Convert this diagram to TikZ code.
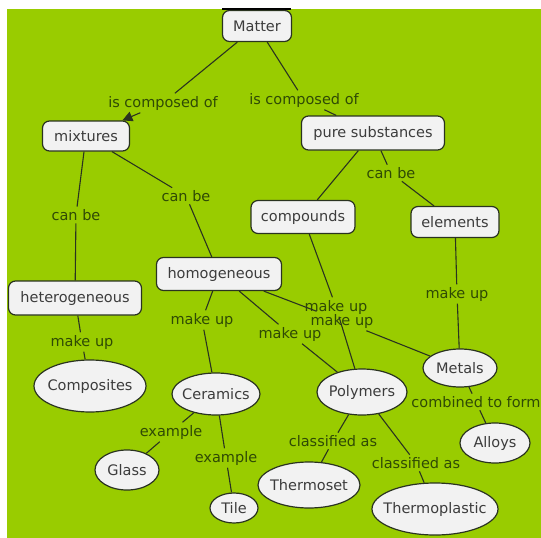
\documentclass[tikz,border=0pt]{standalone}
\usepackage{fontspec}
\setmainfont{DejaVu Sans}
\usetikzlibrary{shapes.geometric,arrows.meta}
\definecolor{bg}{HTML}{99CC00}
\definecolor{nodefill}{HTML}{F2F2F2}
\definecolor{edgecol}{HTML}{2A3320}
\definecolor{lblcol}{HTML}{2F4A05}
\definecolor{ntext}{HTML}{3C3C3C}
\begin{document}
\begin{tikzpicture}[x=1pt,y=-1pt,
  concept/.style={draw=edgecol, line width=1.2pt, fill=nodefill, inner sep=0pt,
    text=ntext, font=\fontsize{14.5}{17}\selectfont},
  box/.style={concept, rectangle, rounded corners=7pt},
  oval/.style={concept, ellipse},
  linklbl/.style={text=lblcol, font=\fontsize{14.5}{17}\selectfont, inner sep=2.5pt},
  conn/.style={draw=edgecol, line width=1.1pt}]
\useasboundingbox (0,0) rectangle (541,538);
\fill[white] (0,0) rectangle (541,538);
\fill[bg] (7,9) rectangle (541,538);
\fill[black] (222,7.5) rectangle (291,9.5);

% concepts
\node[box, minimum width=69pt, minimum height=31pt] (matter) at (257,26) {\makebox[0pt]{Matter}};
\node[box, minimum width=87pt, minimum height=30pt] (mixtures) at (86,136) {\makebox[0pt]{mixtures}};
\node[box, minimum width=143pt, minimum height=34pt] (pure) at (373,133) {\makebox[0pt]{pure substances}};
\node[box, minimum width=104pt, minimum height=33pt] (compounds) at (303,217) {\makebox[0pt]{compounds}};
\node[box, minimum width=88pt, minimum height=31pt] (elements) at (455,222) {\makebox[0pt]{elements}};
\node[box, minimum width=125pt, minimum height=33pt] (homog) at (219,274) {\makebox[0pt]{homogeneous}};
\node[box, minimum width=133pt, minimum height=34pt] (hetero) at (75,298) {\makebox[0pt]{heterogeneous}};

\node[oval, minimum width=112pt, minimum height=52pt] (composites) at (90,386) {\makebox[0pt]{Composites}};
\node[oval, minimum width=88pt, minimum height=42pt] (ceramics) at (216,394) {\makebox[0pt]{Ceramics}};
\node[oval, minimum width=90pt, minimum height=46pt] (polymers) at (362,392) {\makebox[0pt]{Polymers}};
\node[oval, minimum width=74pt, minimum height=38pt] (metals) at (460,368) {\makebox[0pt]{Metals}};
\node[oval, minimum width=70pt, minimum height=40pt] (alloys) at (495,443) {\makebox[0pt]{Alloys}};
\node[oval, minimum width=64pt, minimum height=40pt] (glass) at (127,470) {\makebox[0pt]{Glass}};
\node[oval, minimum width=48pt, minimum height=30pt] (tile) at (234,508) {\makebox[0pt]{Tile}};
\node[oval, minimum width=102pt, minimum height=46pt] (thermoset) at (309,485) {\makebox[0pt]{Thermoset}};
\node[oval, minimum width=126pt, minimum height=52pt] (thermoplastic) at (435,509) {\makebox[0pt]{Thermoplastic}};

% linking phrases
\node[linklbl] (ico1) at (163,103) {is composed of};
\node[linklbl] (ico2) at (304,100) {is composed of};
\node[linklbl] (cb1) at (76,215) {can be};
\node[linklbl] (cb2) at (186,196) {can be};
\node[linklbl] (cb3) at (391,173) {can be};
\node[linklbl] (mu1) at (336,307) {make up};
\node[linklbl] (mu2) at (342,321) {make up};
\node[linklbl] (mu3) at (202,320) {make up};
\node[linklbl] (mu4) at (457,294) {make up};
\node[linklbl] (mu5) at (82,342) {make up};
\node[linklbl] (mu6) at (290,334) {make up};
\node[linklbl] (ex1) at (171,432) {example};
\node[linklbl] (ex2) at (226,458) {example};
\node[linklbl] (cl1) at (333,441) {classified as};
\node[linklbl] (cl2) at (416,463) {classified as};
\node[linklbl] (cf) at (476,402) {combined to form};

% connectors
\draw[conn] (matter) -- (ico1);
\draw[conn, -{Triangle[length=10pt,width=10pt]}] (ico1) -- (mixtures);
\draw[conn] (matter) -- (ico2);
\draw[conn] (ico2) -- (pure);
\draw[conn] (mixtures) -- (cb1);
\draw[conn] (cb1) -- (hetero);
\draw[conn] (mixtures) -- (cb2);
\draw[conn] (cb2) -- (homog);
\draw[conn] (pure) -- (compounds);
\draw[conn] (pure) -- (cb3);
\draw[conn] (cb3) -- (elements);
\draw[conn] (hetero) -- (mu5);
\draw[conn] (mu5) -- (composites);
\draw[conn] (homog) -- (mu3);
\draw[conn] (mu3) -- (ceramics);
\draw[conn] (homog) -- (mu6);
\draw[conn] (mu6) -- (polymers);
\draw[conn] (homog) -- (mu2);
\draw[conn] (mu2) -- (metals);
\draw[conn] (compounds) -- (mu1);
\draw[conn] (mu1) -- (polymers);
\draw[conn] (elements) -- (mu4);
\draw[conn] (mu4) -- (metals);
\draw[conn] (ceramics) -- (ex1);
\draw[conn] (ex1) -- (glass);
\draw[conn] (ceramics) -- (ex2);
\draw[conn] (ex2) -- (tile);
\draw[conn] (polymers) -- (cl1);
\draw[conn] (cl1) -- (thermoset);
\draw[conn] (polymers) -- (cl2);
\draw[conn] (cl2) -- (thermoplastic);
\draw[conn] (metals) -- (cf);
\draw[conn] (cf) -- (alloys);
\end{tikzpicture}
\end{document}
